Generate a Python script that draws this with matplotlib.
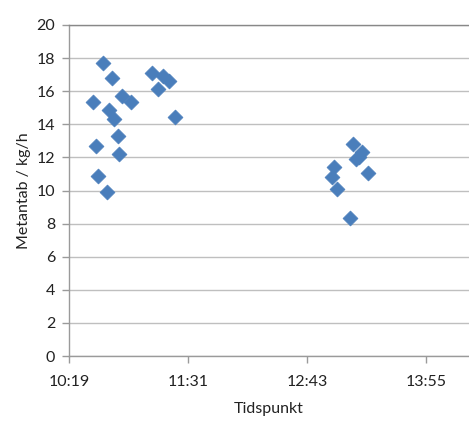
import matplotlib
matplotlib.use("Agg")
import matplotlib.pyplot as plt

times = ["10:33:54", "10:35:30", "10:36:54", "10:39:36", "10:42:00", "10:43:36",
         "10:45:18", "10:46:36", "10:48:42", "10:49:18", "10:51:06", "10:56:42",
         "11:09:12", "11:13:00", "11:16:06", "11:19:42", "11:23:18",
         "12:58:06", "12:59:30", "13:01:30", "13:09:12", "13:11:12", "13:12:48",
         "13:14:30", "13:16:30", "13:20:18"]
values = [15.33, 12.69, 10.88, 17.69, 9.91, 14.86,
          16.82, 14.32, 13.31, 12.19, 15.71, 15.37,
          17.08, 16.15, 16.9, 16.6, 14.46,
          10.83, 11.40, 10.10, 8.32, 12.80, 11.90,
          12.05, 12.35, 11.08]
x_tick_labels = ["10:19", "11:31", "12:43", "13:55"]
y_ticks = list(range(0, 21, 2))

def to_min(s):
    p = [int(v) for v in s.split(":")]
    return p[0] * 60 + p[1] + (p[2] / 60 if len(p) > 2 else 0)

xs = [to_min(t) for t in times]
x_tick_pos = [to_min(t) + 0.2 for t in x_tick_labels]

plt.rcParams['font.family'] = ['Lato', 'DejaVu Sans']

fig = plt.figure(figsize=(4.69, 4.26), dpi=100)
W, H = 469, 426
ax = fig.add_axes([69 / W, 1 - 356 / H, (469 - 69) / W, (356 - 25) / H])

ax.scatter(xs, values, marker='D', s=7.6 ** 2, color='#4A7EBB', edgecolors='#4A7EBB',
           linewidths=0.5, zorder=3)

ax.set_xlim(x_tick_pos[0], x_tick_pos[0] + 400 / (119 / 72))
ax.set_ylim(0, 20)
ax.set_xticks(x_tick_pos)
ax.set_xticklabels(x_tick_labels)
ax.set_yticks(y_ticks)

ax.yaxis.grid(True, color='#BFBFBF', linewidth=1.0)
ax.set_axisbelow(True)

for side in ['left', 'bottom']:
    ax.spines[side].set_color('#9A9A9A')
    ax.spines[side].set_linewidth(1.0)
ax.spines['right'].set_visible(False)
ax.spines['top'].set_color('#888888')
ax.spines['top'].set_linewidth(1.0)

ax.tick_params(axis='both', direction='out', length=5, width=1.0, color='#9A9A9A',
               labelsize=11.5, labelcolor='#222222')
ax.tick_params(axis='x', pad=9)
ax.tick_params(axis='y', pad=5)

ax.set_xlabel("Tidspunkt", fontsize=11.5, color='#222222', labelpad=9)
ax.set_ylabel("Metantab / kg/h", fontsize=11.5, color='#222222', labelpad=4)

fig.savefig("out.png", dpi=100)
